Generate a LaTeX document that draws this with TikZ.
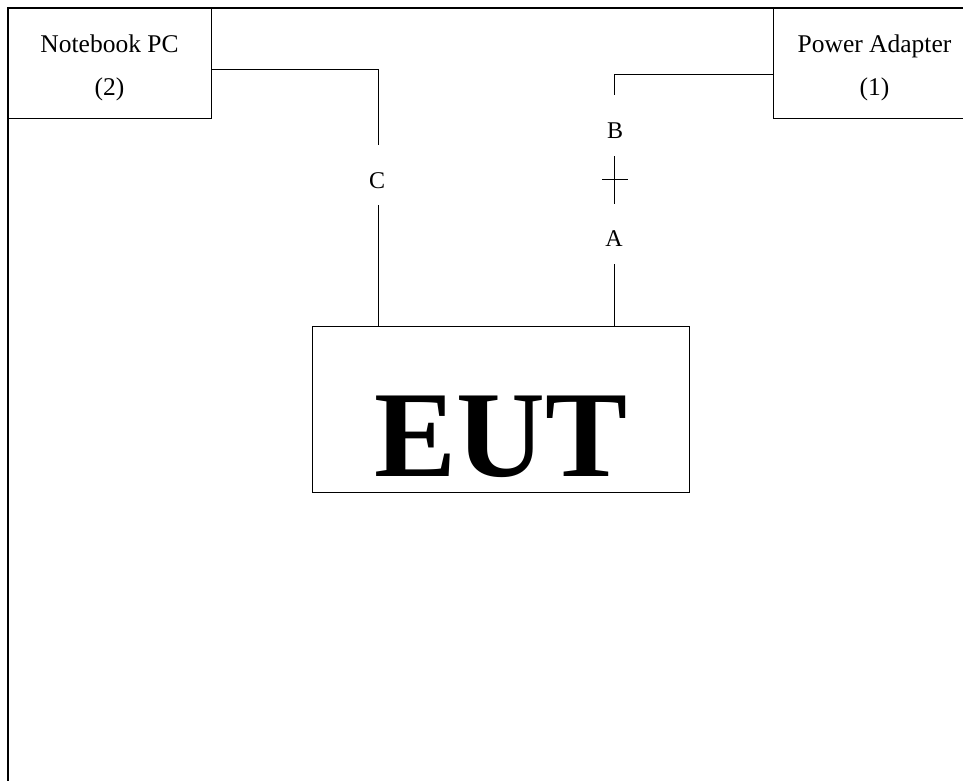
\documentclass[tikz,border=0pt]{standalone}
\usepackage{fontspec}
\setmainfont{Liberation Serif}
\tikzset{
  devbox/.style={draw, line width=0.9pt, inner sep=0pt, minimum width=203pt,
    text height=87pt, text depth=23pt, align=center,
    font=\fontsize{25.5}{43}\selectfont},
  eutbox/.style={draw, line width=0.9pt, inner sep=0pt, minimum width=377pt,
    minimum height=166pt, text height=134.6pt, text depth=0pt,
    font=\fontsize{123}{130}\selectfont\bfseries},
  cable/.style={line width=0.9pt},
  tag/.style={inner sep=0pt, font=\fontsize{24}{28}\selectfont}
}
\begin{document}
\begin{tikzpicture}[x=1pt,y=-1pt]
\useasboundingbox (0,0) rectangle (963,780);
\draw[line width=1.2pt] (8,800) -- (8,8) -- (990,8);

\node[devbox] (nb) at (109.5,63) {Notebook PC\\(2)};
\node[devbox] (pa) at (874.5,63) {Power Adapter\\(1)};
\node[eutbox] (eut) at (501.3,409) {EUT};

\node[tag] (c) at (377,180.5) {C};
\node[tag] (b) at (615,131) {B};
\node[tag] (a) at (614,238.5) {A};

\coordinate (cUp) at (378,145);
\coordinate (cDown) at (378,205);
\coordinate (bUp) at (614,95);
\coordinate (bDown) at (614,156);
\coordinate (tick) at (614,179);
\coordinate (aUp) at (614,204);
\coordinate (aDown) at (614,264);

\draw[cable] ([yshift=-6pt]nb.east) -| (cUp);
\draw[cable] (cDown) -- (eut.north -| cDown);
\draw[cable] ([yshift=-11pt]pa.west) -| (bUp);
\draw[cable] (bDown) -- (aUp);
\draw[cable] ([xshift=-12pt]tick) -- ([xshift=14pt]tick);
\draw[cable] (aDown) -- (eut.north -| aDown);
\end{tikzpicture}
\end{document}
